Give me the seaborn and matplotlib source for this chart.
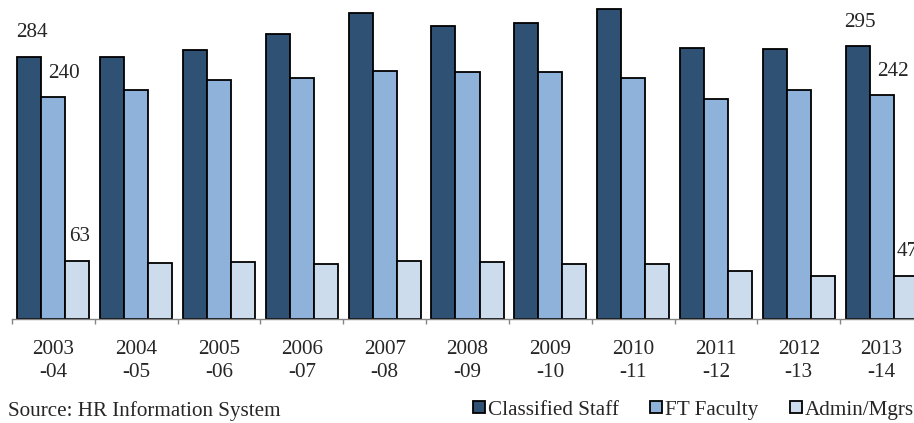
#!/usr/bin/env python
# coding: utf-8
#
import seaborn as sb
from matplotlib import pyplot as plt
import pandas as pd
import numpy as np

years = ['2003\n-04', '2004\n-05', '2005\n-06', '2006\n-07', '2007\n-08', '2008\n-09',
         '2009\n-10', '2010\n-11', '2011\n-12', '2012\n-13', '2013\n-14']
classified = [284, 284, 291, 308, 331, 317, 320, 336, 293, 292, 295]
faculty = [240, 248, 259, 261, 268, 267, 267, 261, 238, 248, 242]
admin = [63, 61, 62, 60, 63, 62, 59, 60, 52, 46, 47]
series = ['Classified Staff', 'FT Faculty', 'Admin/Mgrs']
colors = ['#2F5173', '#8FB2DA', '#CDDCEC']

df = pd.DataFrame({'year': years * 3,
                   'group': np.repeat(series, len(years)),
                   'count': classified + faculty + admin})

sb.set_style('white')
plt.rcParams['font.family'] = ['Liberation Serif', 'DejaVu Serif']
fs = 15.2
#
fig = plt.figure(figsize=(9.14, 4.23), dpi=100)
W, H = 914, 423
ax = fig.add_axes([12 / W, (H - 319) / H, 911 / W, 318.8 / H])
sb.barplot(data=df, x='year', y='count', hue='group', hue_order=series,
           palette=colors, width=0.87, edgecolor='black', linewidth=1.3,
           saturation=1, ax=ax)
ax.set_ylim(0, 345)
ax.set_xlim(-0.5, 10.5)
ax.get_legend().remove()

# value labels on the first and last year only
offsets = [2.5, 11, 2]
for cont, dx in zip(ax.containers, offsets):
    for i in (0, len(years) - 1):
        p = cont.patches[i]
        ax.annotate(str(int(p.get_height())), (p.get_x() + p.get_width() / 2, p.get_height()),
                    xytext=(dx, 24), textcoords='offset pixels', ha='center', va='center',
                    fontsize=fs, annotation_clip=False)

for s in ['left', 'right', 'top']:
    ax.spines[s].set_visible(False)
ax.spines['bottom'].set_color('#858585')
ax.spines['bottom'].set_linewidth(1)
ax.set_yticks([])
ax.set_xticks(np.arange(-0.5, 11, 1))
ax.set_xticklabels([])
ax.set_xticks(np.arange(11), minor=True)
ax.set_xticklabels(years, minor=True, fontsize=fs, linespacing=1.3)
ax.tick_params(axis='x', which='major', direction='out', length=3.5, color='#858585', width=1, bottom=True)
ax.tick_params(axis='x', which='minor', length=0, pad=15)
ax.set_xlabel('')
ax.set_ylabel('')

handles, labels = ax.get_legend_handles_labels()
fig.legend(handles, labels, loc='center right', bbox_to_anchor=(1.0, 1 - 410 / H),
           ncol=3, frameon=False, fontsize=fs, handlelength=0.55, handleheight=0.55,
           handletextpad=0.15, columnspacing=1.5, borderaxespad=0, borderpad=0)
fig.text(8 / W, 1 - 411 / H, 'Source: HR Information System', fontsize=fs, va='center')
#
fig.savefig('out.png', dpi=100)
